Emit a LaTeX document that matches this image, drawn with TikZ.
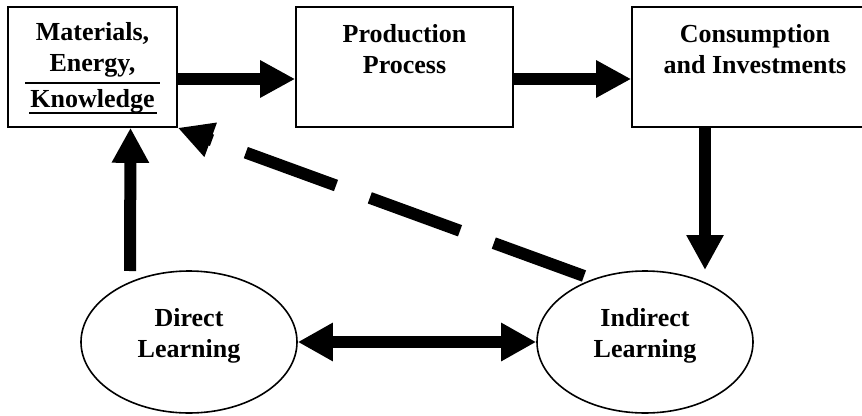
\documentclass[tikz,border=0pt]{standalone}
\usepackage{fontspec}
\setmainfont{Liberation Serif}
\usetikzlibrary{arrows.meta,shapes.geometric}
\begin{document}
\begin{tikzpicture}[x=1pt,y=-1pt,
  box/.style={draw, line width=1.6pt, minimum width=#1, minimum height=120pt, inner sep=0pt},
  oval/.style={ellipse, draw, line width=1.6pt, minimum width=216pt, minimum height=142pt, inner sep=0pt},
  lbl/.style={font=\fontsize{26}{31}\selectfont\bfseries, align=center, inner sep=0pt},
  rulel/.style={line width=2pt},
  flow/.style={line width=12pt, -{Triangle[length=35pt,width=35pt]}},
  twoway/.style={line width=11.5pt, {Triangle[length=35pt,width=36pt]}-{Triangle[length=35pt,width=36pt]}},
  back/.style={line width=12pt, -{Triangle[length=35pt,width=34pt]}, dash pattern=on 96pt off 36pt}
]
\clip (0,0) rectangle (862,415);
\useasboundingbox (0,0) rectangle (862,415);
% boxes
\node[box=169pt] (mat) at (92.5,67) {};
\node[box=217pt] (prod) at (404.5,67) {};
\node[box=246pt] (cons) at (755,67) {};
% ellipses
\node[oval] (dir) at (189,342) {};
\node[oval] (ind) at (645,342) {};
% labels (base = baseline of last line)
\node[lbl, anchor=base] (matL) at (92.5,107) {Materials,\\Energy,\\[5pt]Knowledge};
\node[lbl, anchor=base] (prodL) at (404.5,73) {Production\\Process};
\node[lbl, anchor=base] (consL) at (755,73) {Consumption\\and Investments};
\node[lbl, anchor=base] (dirL) at (189,357) {Direct\\Learning};
\node[lbl, anchor=base] (indL) at (645,357) {Indirect\\Learning};
% rules around Knowledge
\draw[rulel] (25,83) -- (160,83);
\draw[rulel] (29,113) -- (157,113);
% free ends
\coordinate (dtip) at (705,270);
\coordinate (utail) at (130,271);
\coordinate (btail) at (584,276);
% connectors
\draw[flow] ([yshift=-12pt]mat.east) -- ([yshift=-12pt]prod.west);
\draw[flow] ([yshift=-12pt]prod.east) -- ([yshift=-12pt]cons.west);
\draw[flow] ([xshift=-50pt]cons.south) -- (dtip);
\draw[flow] (utail) -- ([xshift=38pt]mat.south);
\draw[twoway] (dir.east) -- (ind.west);
\draw[back] (btail) -- (mat.south east);
\end{tikzpicture}
\end{document}
